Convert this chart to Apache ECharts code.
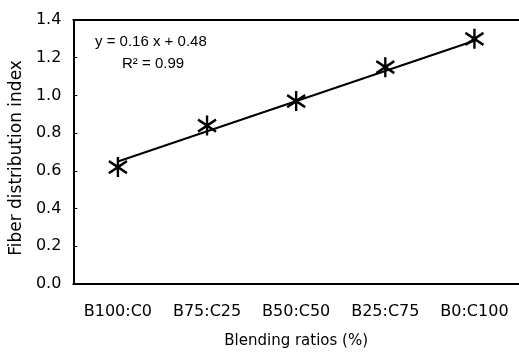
<!DOCTYPE html>
<html>
<head>
<meta charset="utf-8">
<script src="https://cdn.jsdelivr.net/npm/echarts@6/dist/echarts.min.js"></script>
<style>html,body{margin:0;padding:0;background:#fff}#c{width:519px;height:357px}</style>
</head>
<body>
<div id="c"></div>
<script>
var categories = ['B100:C0', 'B75:C25', 'B50:C50', 'B25:C75', 'B0:C100'];
var fiberIndex = [0.62, 0.84, 0.97, 1.15, 1.30];
var trendValues = [0.65, null, null, null, 1.29];
var yTicks = { min: 0, max: 1.4, interval: 0.2 };
var equationText = 'y = 0.16 x + 0.48';
var r2Text = 'R\u00B2 = 0.99';

var font = 'DejaVu Sans';
var chart = echarts.init(document.getElementById('c'), null, { renderer: 'canvas' });
chart.setOption({
  backgroundColor: '#fff',
  animation: false,
  grid: { left: 73, right: -3, top: 20, bottom: 73, containLabel: false },
  xAxis: [{
    type: 'category',
    data: categories,
    boundaryGap: true,
    name: 'Blending ratios (%)',
    nameLocation: 'middle',
    nameGap: 50,
    nameTextStyle: { fontFamily: font, fontSize: 15, color: '#000' },
    axisLine: { lineStyle: { color: '#000', width: 2 } },
    axisTick: { inside: true, length: 4, lineStyle: { color: '#000', width: 1 } },
    axisLabel: { fontFamily: font, fontSize: 16, color: '#000', margin: 20 },
    splitLine: { show: false }
  }, {
    type: 'category',
    data: categories,
    position: 'top',
    axisLine: { lineStyle: { color: '#000', width: 2 } },
    axisTick: { show: false },
    axisLabel: { show: false },
    splitLine: { show: false }
  }],
  yAxis: {
    type: 'value',
    min: yTicks.min,
    max: yTicks.max,
    interval: yTicks.interval,
    name: 'Fiber distribution index',
    nameLocation: 'middle',
    nameGap: 46,
    nameTextStyle: { fontFamily: font, fontSize: 17, color: '#000', padding: [0, 12, 0, 0] },
    axisLine: { show: true, lineStyle: { color: '#000', width: 2 } },
    axisTick: { show: true, inside: true, length: 4, lineStyle: { color: '#000', width: 1 } },
    axisLabel: { fontFamily: font, fontSize: 16, color: '#000', margin: 12,
      formatter: function (v) { return v.toFixed(1); } },
    splitLine: { show: false }
  },
  series: [{
    type: 'line',
    data: trendValues,
    connectNulls: true,
    symbol: 'none',
    lineStyle: { color: '#000', width: 2 },
    silent: true,
    z: 2
  }, {
    type: 'scatter',
    data: fiberIndex,
    symbol: 'path://M10,0L10,20M1,4L19,16M1,16L19,4',
    symbolSize: [18, 20],
    itemStyle: { color: 'none', borderColor: '#000', borderWidth: 2.5, opacity: 1 },
    z: 3
  }],
  graphic: [{
    type: 'text',
    left: 95, top: 34,
    style: { text: equationText, fontFamily: 'Liberation Sans', fontSize: 15, fill: '#000' }
  }, {
    type: 'text',
    left: 122, top: 56,
    style: { text: r2Text, fontFamily: 'Liberation Sans', fontSize: 15, fill: '#000' }
  }]
});
</script>
</body>
</html>
